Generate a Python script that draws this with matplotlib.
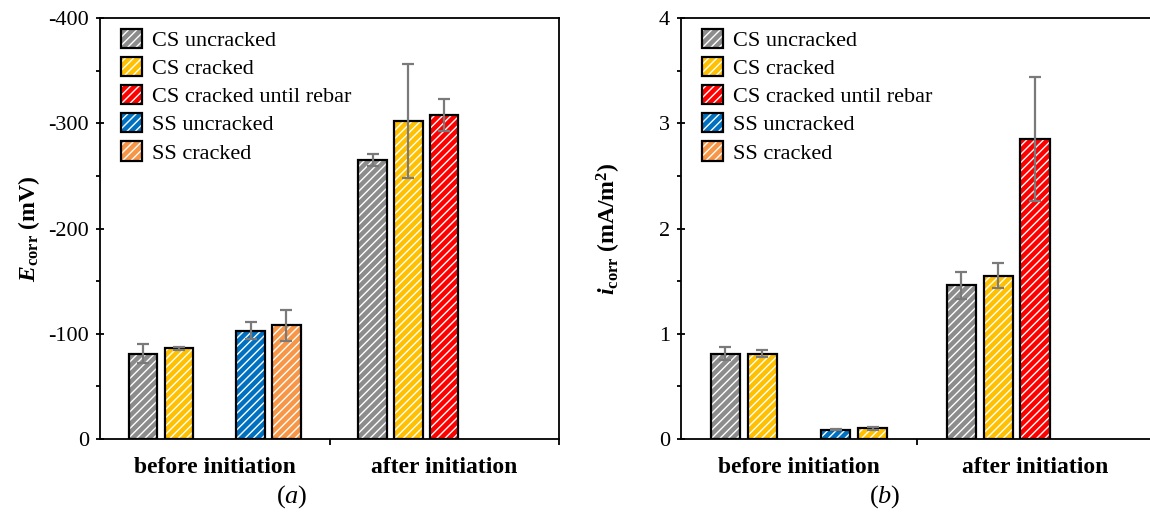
import numpy as np
import matplotlib
matplotlib.use('Agg')
import matplotlib.pyplot as plt
from matplotlib.patches import Patch
from matplotlib.legend_handler import HandlerTuple
from matplotlib.ticker import MultipleLocator, FixedLocator, NullFormatter, FuncFormatter

plt.rcParams.update({
    'font.family': ['Liberation Serif', 'DejaVu Serif'],
    'mathtext.fontset': 'custom',
    'mathtext.rm': 'Liberation Serif',
    'mathtext.it': 'Liberation Serif:italic',
    'mathtext.bf': 'Liberation Serif:bold',
    'mathtext.bfit': 'Liberation Serif:italic:bold',
    'axes.unicode_minus': False,
    'hatch.linewidth': 1.0,
})

nan = np.nan
categories = ['before initiation', 'after initiation']
series = ['CS uncracked', 'CS cracked', 'CS cracked until rebar', 'SS uncracked', 'SS cracked']
series_colors = ['#8c8c8c', '#FFC000', '#FF0000', '#0070C0', '#F79646']
bar_colors_b = ['#8c8c8c', '#FFC000', '#FF0000', '#0070C0', '#FFC000']

# rows = series, columns = categories
ecorr = [[-81, -265], [-86, -302], [nan, -308], [-103, nan], [-108, nan]]
ecorr_err = [[9, 6], [1, 54], [nan, 15], [8, nan], [15, nan]]
icorr = [[0.81, 1.46], [0.81, 1.55], [nan, 2.85], [0.09, nan], [0.10, nan]]
icorr_err = [[0.06, 0.13], [0.035, 0.12], [nan, 0.59], [0.005, nan], [0.01, nan]]

ecorr_ticks = [0, -100, -200, -300, -400]
icorr_ticks = [0, 1, 2, 3, 4]

SLOT = 0.156
WIDTH = 0.124
ERR_COLOR = '#7a7a7a'

fig = plt.figure(figsize=(11.5, 5.2), dpi=100)
axA = fig.add_axes([100/1150, 1-439/520, 459/1150, 421/520])
axB = fig.add_axes([681/1150, 1-439/520, 472/1150, 421/520])


def draw(ax, values, errs, colors):
    xc = np.arange(len(categories))
    for i in range(len(series)):
        x = xc + (i - 2) * SLOT
        v = np.array(values[i], dtype=float)
        e = np.array(errs[i], dtype=float)
        m = ~np.isnan(v)
        ax.bar(x[m], v[m], WIDTH, color=colors[i], edgecolor='white',
               linewidth=0, hatch='////', zorder=2)
        ax.bar(x[m], v[m], WIDTH, fill=False, edgecolor='black',
               linewidth=1.6, zorder=3)
        ax.errorbar(x[m], v[m], yerr=e[m], fmt='none', ecolor=ERR_COLOR,
                    elinewidth=1.6, capsize=4.5, capthick=1.6, zorder=4)
    ax.set_xlim(-0.5, len(categories) - 0.5)
    ax.xaxis.set_major_locator(FixedLocator(xc))
    ax.set_xticklabels(categories, fontsize=17, fontweight='bold')
    ax.tick_params(axis='x', which='major', length=0, pad=13)
    ax.xaxis.set_minor_locator(FixedLocator([0.5, 1.5]))
    ax.xaxis.set_minor_formatter(NullFormatter())
    ax.tick_params(axis='x', which='minor', direction='out', length=4.5, width=1.3)
    ax.tick_params(axis='y', which='major', direction='inout', length=6, width=1.3,
                   labelsize=16, pad=5)
    ax.tick_params(axis='y', which='minor', direction='out', length=3, width=1.3)
    for sp in ax.spines.values():
        sp.set_linewidth(1.3)
    handles = []
    for i in range(len(series)):
        h1 = Patch(facecolor=series_colors[i], edgecolor='white', linewidth=0, hatch='////')
        h2 = Patch(fill=False, edgecolor='black', linewidth=1.6)
        handles.append((h1, h2))
    ax.legend(handles, series, handler_map={tuple: HandlerTuple(ndivide=1, pad=0)},
              loc='upper left', bbox_to_anchor=(0.045, 0.975), frameon=False,
              fontsize=16, handlelength=0.95, handleheight=0.95,
              handletextpad=0.45, labelspacing=0.27, borderpad=0, borderaxespad=0)


draw(axA, ecorr, ecorr_err, series_colors)
axA.set_ylim(0, -400)
axA.yaxis.set_major_locator(FixedLocator(ecorr_ticks))
axA.yaxis.set_minor_locator(MultipleLocator(50))
axA.yaxis.set_major_formatter(FuncFormatter(lambda v, p: '%d' % v))
axA.set_ylabel(r'$\mathbfit{E}_{\mathbf{corr}}$ (mV)', fontsize=17, fontweight='bold')
axA.yaxis.set_label_coords(-0.126, 0.5)

draw(axB, icorr, icorr_err, bar_colors_b)
axB.set_ylim(0, 4)
axB.yaxis.set_major_locator(FixedLocator(icorr_ticks))
axB.yaxis.set_minor_locator(MultipleLocator(0.5))
axB.yaxis.set_major_formatter(FuncFormatter(lambda v, p: '%d' % v))
axB.set_ylabel(r'$\mathbfit{i}_{\mathbf{corr}}$ (mA/m$^{\mathbf{2}}$)', fontsize=17, fontweight='bold')
axB.yaxis.set_label_coords(-0.123, 0.5)

fig.text(292/1150, 1-497/520, r'($\mathit{a}$)', fontsize=19, ha='center', va='center')
fig.text(885/1150, 1-497/520, r'($\mathit{b}$)', fontsize=19, ha='center', va='center')

fig.savefig('out.png', dpi=100)
